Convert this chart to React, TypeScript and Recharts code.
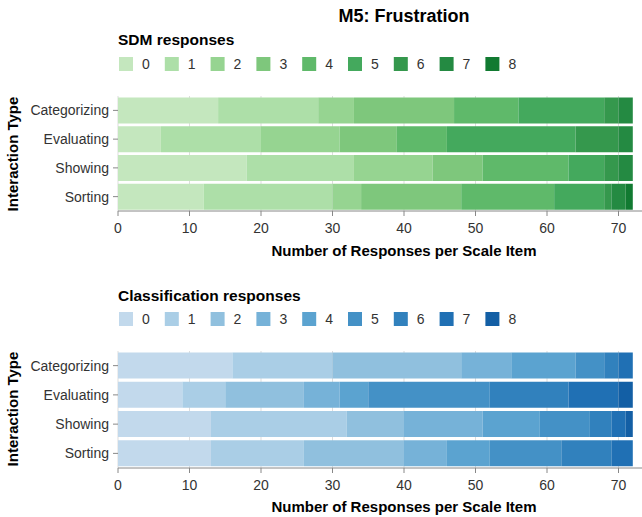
import React from "react";
import { BarChart, Bar, XAxis, YAxis, CartesianGrid } from "recharts";

const categories = ["Categorizing", "Evaluating", "Showing", "Sorting"];
const scaleItems = ["0", "1", "2", "3", "4", "5", "6", "7", "8"];
const xTicks = [0, 10, 20, 30, 40, 50, 60, 70];

// SDM responses: counts per scale item (0..8) for each interaction type
const sdmCategorizing = [14, 14, 5, 14, 9, 12, 2, 2, 0];
const sdmEvaluating = [6, 14, 11, 8, 7, 18, 6, 2, 0];
const sdmShowing = [18, 15, 11, 7, 12, 5, 2, 2, 0];
const sdmSorting = [12, 18, 4, 14, 13, 7, 1, 2, 1];

// Classification responses
const clsCategorizing = [16, 14, 18, 7, 9, 4, 2, 2, 0];
const clsEvaluating = [9, 6, 11, 5, 4, 17, 11, 7, 2];
const clsShowing = [13, 19, 8, 11, 8, 7, 3, 2, 1];
const clsSorting = [13, 13, 14, 6, 6, 10, 7, 3, 0];

const greens = ["#c4e7be", "#addfa8", "#96d491", "#7ec77c", "#5fb96a", "#44a95d", "#35984d", "#248a42", "#117a31"];
const blues = ["#c2d9ec", "#aacee6", "#90c0de", "#76b2d8", "#5ba3d0", "#4491c6", "#3181bd", "#2070b4", "#135fa5"];

const FONT = '"Liberation Sans", Arial, Helvetica, sans-serif';

function buildRows(series: number[][]) {
  return categories.map((c, i) => {
    const row: Record<string, any> = { type: c };
    scaleItems.forEach((s, j) => {
      row["s" + s] = series[i][j];
    });
    return row;
  });
}

const sdmData = buildRows([sdmCategorizing, sdmEvaluating, sdmShowing, sdmSorting]);
const clsData = buildRows([clsCategorizing, clsEvaluating, clsShowing, clsSorting]);

const CHART_W = 700;
const Y_AXIS_W = 118;
const RIGHT = 10;
const PLOT_CX = Y_AXIS_W + (CHART_W - RIGHT - Y_AXIS_W) / 2;

function Stack({ data, colors, marginTop, height, xAxisHeight }: any) {
  return (
    <BarChart
      width={CHART_W}
      height={height}
      data={data}
      layout="vertical"
      margin={{ top: marginTop, right: RIGHT, bottom: 0, left: 0 }}
      barCategoryGap={1.5}
    >
      <CartesianGrid horizontal={false} vertical stroke="#dddddd" strokeWidth={1} />
      <XAxis
        type="number"
        domain={[0, 80]}
        ticks={xTicks}
        height={xAxisHeight}
        tickSize={5}
        tickMargin={7}
        interval={0}
        allowDataOverflow
        stroke="#888"
        tick={{ fill: "#333", fontSize: 14, fontFamily: FONT }}
      />
      <YAxis
        type="category"
        dataKey="type"
        width={Y_AXIS_W}
        axisLine={false}
        tickSize={5}
        tickMargin={4}
        stroke="#888"
        tick={{ fill: "#333", fontSize: 14, fontFamily: FONT }}
      />
      {scaleItems.map((s, j) => (
        <Bar key={s} dataKey={"s" + s} stackId="a" fill={colors[j]} isAnimationActive={false} />
      ))}
    </BarChart>
  );
}

function LegendBlock({ title, colors, titleBaseline, squareTop }: any) {
  return (
    <g>
      <text x={118} y={titleBaseline} fontFamily={FONT} fontWeight="bold" fontSize={15.5} fill="#000">
        {title}
      </text>
      {scaleItems.map((s, j) => (
        <g key={s}>
          <rect x={119 + j * 45.8} y={squareTop} width={14} height={14} fill={colors[j]} />
          <text x={119 + j * 45.8 + 23} y={squareTop + 12} fontFamily={FONT} fontSize={14} fill="#333">
            {s}
          </text>
        </g>
      ))}
    </g>
  );
}

export default function App() {
  const topA = 0;
  const topB = 256;
  return (
    <div
      style={{
        position: "absolute",
        left: 0,
        top: 0,
        width: 642,
        height: 517,
        overflow: "hidden",
        background: "#fff",
        fontFamily: FONT,
      }}
    >
      <div style={{ position: "absolute", left: 0, top: topA }}>
        <Stack data={sdmData} colors={greens} marginTop={96} height={270} xAxisHeight={59} />
      </div>
      <div style={{ position: "absolute", left: 0, top: topB }}>
        <Stack data={clsData} colors={blues} marginTop={95} height={270} xAxisHeight={58} />
      </div>
      <svg
        width={642}
        height={517}
        style={{ position: "absolute", left: 0, top: 0, pointerEvents: "none" }}
      >
        <text x={PLOT_CX} y={22} textAnchor="middle" fontFamily={FONT} fontWeight="bold" fontSize={18} fill="#000">
          M5: Frustration
        </text>
        <LegendBlock title="SDM responses" colors={greens} titleBaseline={44.5} squareTop={57} />
        <LegendBlock title="Classification responses" colors={blues} titleBaseline={300.5} squareTop={312} />
        <text x={PLOT_CX} y={255.5} textAnchor="middle" fontFamily={FONT} fontWeight="bold" fontSize={15} fill="#000">
          Number of Responses per Scale Item
        </text>
        <text x={PLOT_CX} y={511.5} textAnchor="middle" fontFamily={FONT} fontWeight="bold" fontSize={15} fill="#000">
          Number of Responses per Scale Item
        </text>
        <text
          x={18}
          y={154}
          transform="rotate(-90 18 154)"
          textAnchor="middle"
          fontFamily={FONT}
          fontWeight="bold"
          fontSize={15}
          fill="#000"
        >
          Interaction Type
        </text>
        <text
          x={18}
          y={409}
          transform="rotate(-90 18 409)"
          textAnchor="middle"
          fontFamily={FONT}
          fontWeight="bold"
          fontSize={15}
          fill="#000"
        >
          Interaction Type
        </text>
      </svg>
    </div>
  );
}
